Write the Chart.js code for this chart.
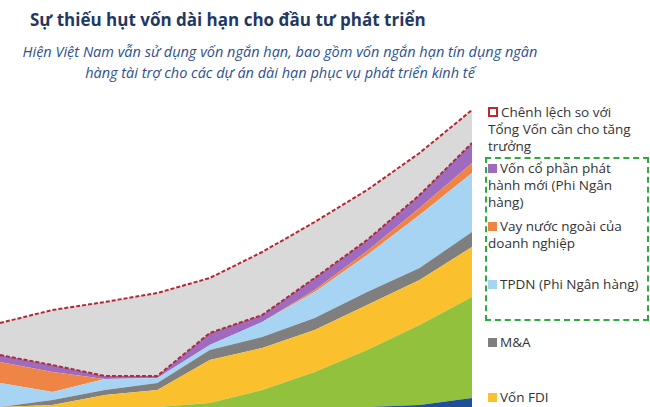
<!DOCTYPE html>
<html><head><meta charset="utf-8">
<script src="https://cdn.jsdelivr.net/npm/chart.js@4"></script>
<style>
body{margin:0;width:650px;height:407px;overflow:hidden;background:#fff;font-family:"Open Sans",sans-serif;position:relative}
#title{position:absolute;left:30px;top:8px;font-size:17px;font-weight:bold;color:#1f3864}
#sub{position:absolute;left:0;top:41px;width:560px;text-align:center;font-size:14.5px;font-style:italic;color:#2f4f8f;line-height:21px}
#wrap{position:absolute;left:0;top:100px;width:472px;height:307px}
.lg{position:absolute;left:488px;font-size:13.5px;color:#333;line-height:17px;width:165px}
.lg i{display:inline-block;width:9px;height:9px;margin-right:3px}
#box{position:absolute;left:485px;top:157px;width:160px;height:160px;border:2px dashed #2eaa3f}
</style></head><body>
<div id="title">Sự thiếu hụt vốn dài hạn cho đầu tư phát triển</div>
<div id="sub">Hiện Việt Nam vẫn sử dụng vốn ngắn hạn, bao gồm vốn ngắn hạn tín dụng ngân<br>hàng tài trợ cho các dự án dài hạn phục vụ phát triển kinh tế</div>
<div id="wrap"><canvas id="c"></canvas></div>
<div id="box"></div>
<div class="lg" style="top:104px"><i style="background:#fff;border:2px solid #c0282d;width:6px;height:6px"></i>Chênh lệch so với<br>Tổng Vốn cần cho tăng<br>trưởng</div>
<div class="lg" style="top:160px"><i style="background:#9e6bbf"></i>Vốn cổ phần phát<br>hành mới (Phi Ngân<br>hàng)</div>
<div class="lg" style="top:218px"><i style="background:#ef8447"></i>Vay nước ngoài của<br>doanh nghiệp</div>
<div class="lg" style="top:276px"><i style="background:#a6d4f2"></i>TPDN (Phi Ngân hàng)</div>
<div class="lg" style="top:334px"><i style="background:#7f7f7f"></i>M&amp;A</div>
<div class="lg" style="top:389px"><i style="background:#fbc02d"></i>Vốn FDI</div>
<script>
const years = ['1','2','3','4','5','6','7','8','9','10'];
const darkBlue = [0,0,0,0,0,0,0,0,2,9];
const green    = [0,0,0,0,4,17,35,57,80,101];
const fdi      = [0,2,12,17,43,42,42,45,45,50];
const mna      = [0,5,5,7,10,11,12,13,12,15];
const tpdn     = [24,8,11,5,5,15,26,37,53,59];
const foreign  = [21,20,0,0,0,0,2,4,7,10];
const equity   = [7,7,3,2,12,7,12,11,13,20];
const gap      = [32,55,74,83,55,63,56,50,42,33];

function area(data, color, fill, extra) {
  return Object.assign({ data, backgroundColor: color, borderColor: color, borderWidth: 0,
    pointRadius: 0, tension: 0, fill }, extra || {});
}
new Chart(document.getElementById('c'), {
  type: 'line',
  data: { labels: years, datasets: [
    area(darkBlue, '#1f4e9c', 'origin'),
    area(green, '#92c13e', '-1'),
    area(fdi, '#fbc02d', '-1'),
    area(mna, '#7f7f7f', '-1'),
    area(tpdn, '#a6d4f2', '-1'),
    area(foreign, '#ef8447', '-1'),
    area(equity, '#9e6bbf', '-1', { borderColor: '#b02a35', borderWidth: 2, borderDash: [4, 2] }),
    area(gap, '#d9d9d9', '-1', { borderColor: '#b02a35', borderWidth: 2, borderDash: [4, 2] }),
  ]},
  options: {
    responsive: true, maintainAspectRatio: false, animation: false,
    layout: { padding: 0 },
    plugins: { legend: { display: false }, tooltip: { enabled: false } },
    scales: {
      x: { display: false, offset: false },
      y: { display: false, stacked: true, min: 0, max: 307 },
    },
  },
});
</script>
</body></html>
